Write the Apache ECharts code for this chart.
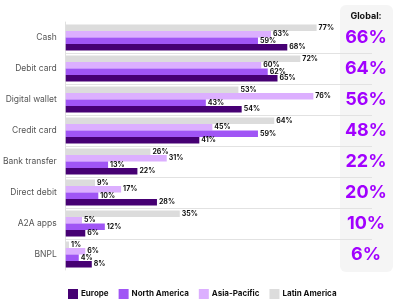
<!DOCTYPE html>
<html><head><meta charset="utf-8">
<script src="https://cdn.jsdelivr.net/npm/echarts@6/dist/echarts.min.js"></script>
<style>html,body{margin:0;padding:0;background:#fff}#c{width:400px;height:299px}</style>
</head><body><div id="c"></div>
<script>
const categories = ['Cash','Debit card','Digital wallet','Credit card','Bank transfer','Direct debit','A2A apps','BNPL'];
const europe = [68,65,54,41,22,28,6,8];
const northAmerica = [59,62,43,59,13,10,12,4];
const asiaPacific = [63,60,76,45,31,17,5,6];
const latinAmerica = [77,72,53,64,26,9,35,1];
const globalValues = [66,64,56,48,22,20,10,6];

const chart = echarts.init(document.getElementById('c'), null, {renderer:'canvas'});
const font = 'Inter, Roboto, sans-serif';
function mk(name, data, color){
  return {
    name, type:'bar', data, barGap:'0%', barCategoryGap:'16%',
    itemStyle:{color},
    label:{show:true, position:'right', distance:2, formatter:'{c}%', color:'#111', fontSize:7, fontWeight:'bold', fontFamily:font},
    z:3
  };
}
chart.setOption({
  animation:false,
  textStyle:{fontFamily:font},
  graphic:[
    {type:'rect', shape:{x:340,y:5,width:53,height:267,r:6}, style:{fill:'#f5f5f5'}, z:-10, silent:true},
    {type:'text', x:366, y:16, style:{text:'Global:', fill:'#111', font:'bold 9px '+font, textAlign:'center', textVerticalAlign:'middle'}, z:10}
  ],
  legend:{
    left:63, top:284, itemWidth:10, itemHeight:10, itemGap:10, icon:'rect',
    data:['Europe','North America','Asia-Pacific','Latin America'],
    textStyle:{fontSize:8, fontWeight:'bold', color:'#111', fontFamily:font, padding:[0,0,0,-2]}
  },
  grid:{left:61, top:22, width:311, height:248, containLabel:false},
  xAxis:{type:'value', min:0, max:94, show:false},
  yAxis:[{
    type:'category', inverse:true, data:categories,
    axisLine:{show:true, lineStyle:{color:'#e0e0e0', width:1}},
    axisTick:{show:false},
    axisLabel:{fontSize:8.5, color:'#555', margin:9, fontFamily:font},
    splitLine:{show:true, showMinLine:false, showMaxLine:false, lineStyle:{color:'#e2e2e2', width:1}}
  },{
    type:'category', inverse:true, data:categories, position:'right',
    axisLine:{show:false}, axisTick:{show:false}, splitLine:{show:false},
    axisLabel:{margin:-6, align:'center', fontSize:18, fontWeight:'bold', color:'#a100ff', fontFamily:font,
      formatter:function(v, i){ return globalValues[i] + '%'; }}
  }],
  series:[
    mk('Latin America', latinAmerica, '#dcdcdc'),
    mk('Asia-Pacific', asiaPacific, '#dcafff'),
    mk('North America', northAmerica, '#a055f5'),
    mk('Europe', europe, '#460073')
  ]
});
</script></body></html>
